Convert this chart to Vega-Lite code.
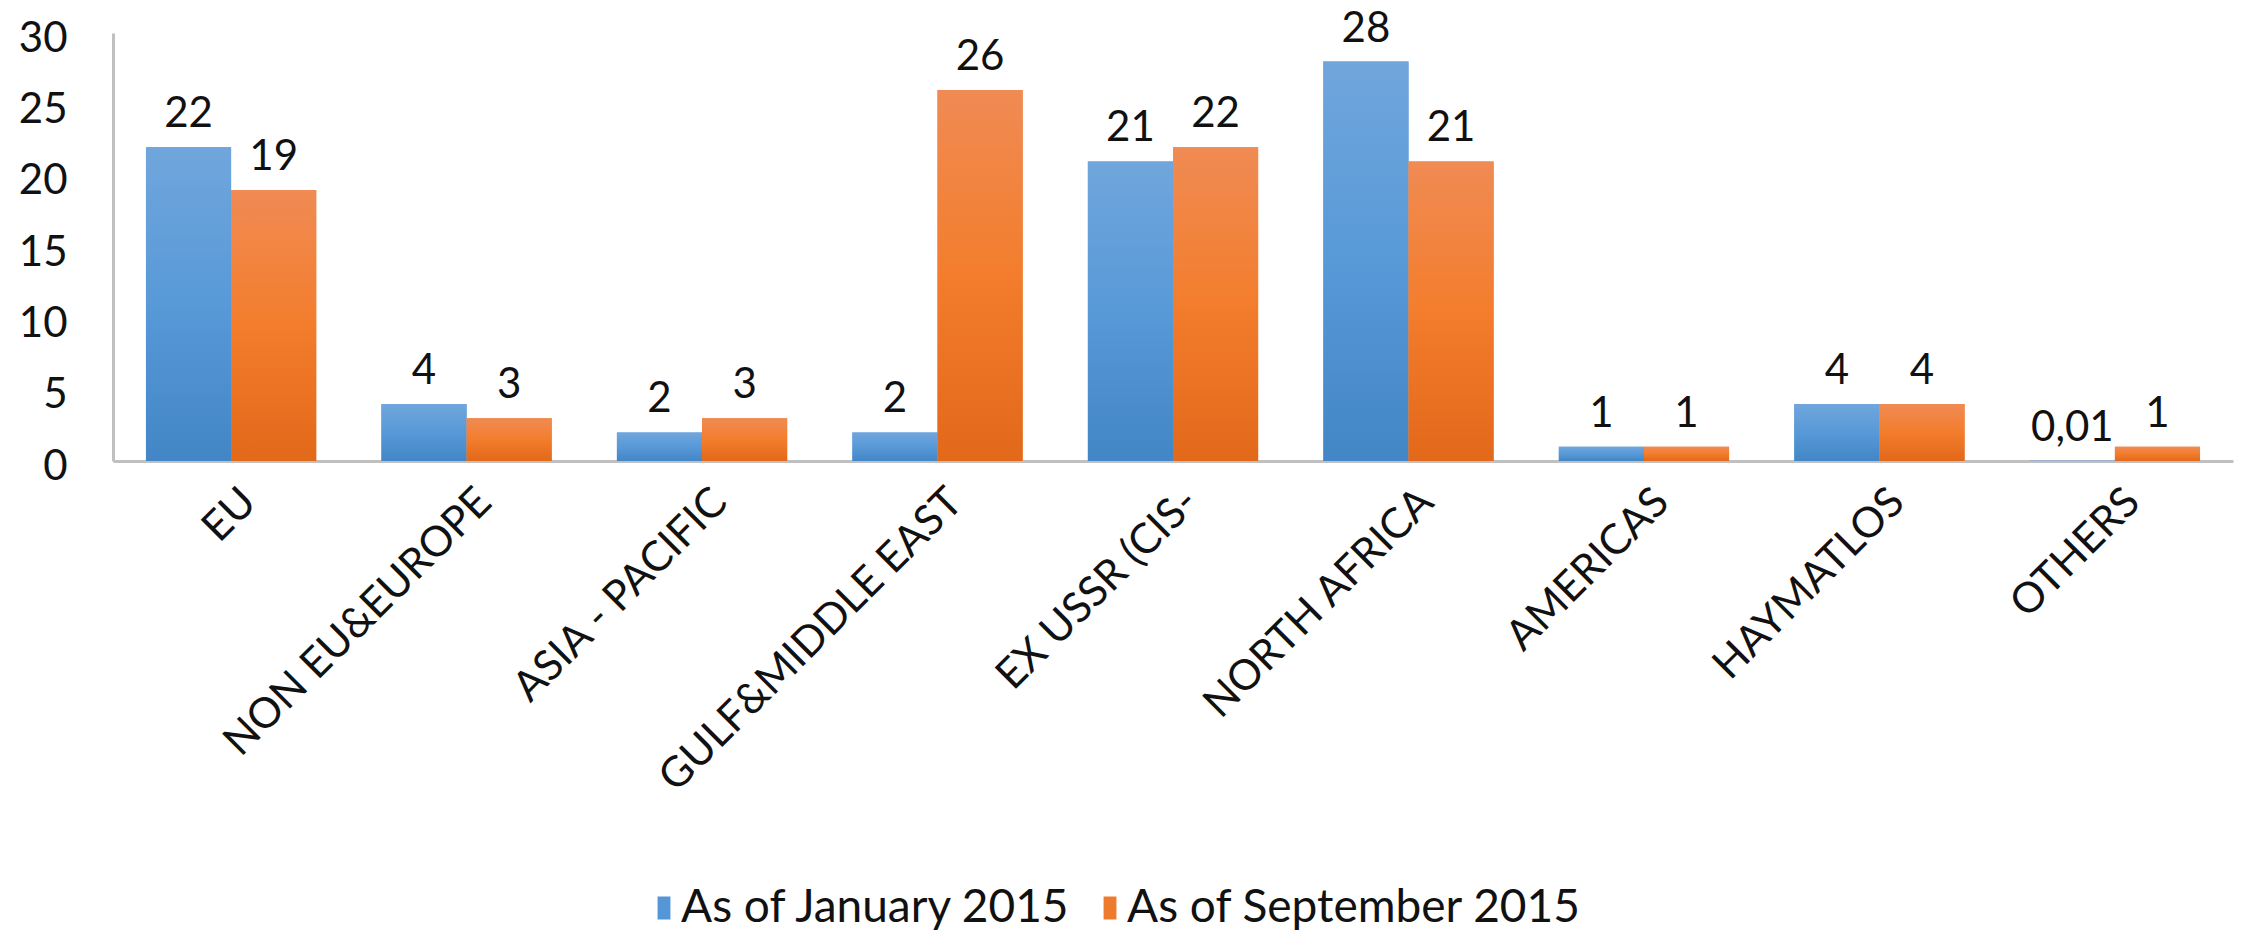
{
  "$schema": "https://vega.github.io/schema/vega-lite/v6.json",
  "width": 2120,
  "height": 428,
  "autosize": {"type": "none"},
  "padding": {"left": 113, "top": 33, "right": 21, "bottom": 479},
  "background": "white",
  "config": {
    "font": "Lato",
    "view": {"stroke": null},
    "axis": {"labelFont": "Lato", "labelColor": "#111111", "grid": false, "ticks": false, "title": null, "domainColor": "#c0c0c0", "domainWidth": 3},
    "legend": {"labelFont": "Lato"}
  },
  "data": {
    "values": [
      {"region": "EU", "series": "As of January 2015", "value": 22, "label": "22"},
      {"region": "EU", "series": "As of September 2015", "value": 19, "label": "19"},
      {"region": "NON EU&EUROPE", "series": "As of January 2015", "value": 4, "label": "4"},
      {"region": "NON EU&EUROPE", "series": "As of September 2015", "value": 3, "label": "3"},
      {"region": "ASIA - PACIFIC", "series": "As of January 2015", "value": 2, "label": "2"},
      {"region": "ASIA - PACIFIC", "series": "As of September 2015", "value": 3, "label": "3"},
      {"region": "GULF&MIDDLE EAST", "series": "As of January 2015", "value": 2, "label": "2"},
      {"region": "GULF&MIDDLE EAST", "series": "As of September 2015", "value": 26, "label": "26"},
      {"region": "EX USSR (CIS-", "series": "As of January 2015", "value": 21, "label": "21"},
      {"region": "EX USSR (CIS-", "series": "As of September 2015", "value": 22, "label": "22"},
      {"region": "NORTH AFRICA", "series": "As of January 2015", "value": 28, "label": "28"},
      {"region": "NORTH AFRICA", "series": "As of September 2015", "value": 21, "label": "21"},
      {"region": "AMERICAS", "series": "As of January 2015", "value": 1, "label": "1"},
      {"region": "AMERICAS", "series": "As of September 2015", "value": 1, "label": "1"},
      {"region": "HAYMATLOS", "series": "As of January 2015", "value": 4, "label": "4"},
      {"region": "HAYMATLOS", "series": "As of September 2015", "value": 4, "label": "4"},
      {"region": "OTHERS", "series": "As of January 2015", "value": 0.01, "label": "0,01"},
      {"region": "OTHERS", "series": "As of September 2015", "value": 1, "label": "1"}
    ]
  },
  "encoding": {
    "x": {
      "field": "region",
      "type": "nominal",
      "sort": null,
      "scale": {"paddingInner": 0.277, "paddingOuter": 0.14},
      "axis": {"labelAngle": -45, "labelAlign": "right", "labelBaseline": "middle", "labelFontSize": 42, "labelPadding": 34, "labelOffset": 18, "labelLimit": 0}
    },
    "xOffset": {
      "field": "series",
      "type": "nominal",
      "scale": {"domain": ["As of January 2015", "As of September 2015"], "paddingInner": 0, "paddingOuter": 0}
    },
    "y": {
      "field": "value",
      "type": "quantitative",
      "scale": {"domain": [0, 30], "nice": false},
      "axis": {"values": [0, 5, 10, 15, 20, 25, 30], "labelFontSize": 42, "labelPadding": 46, "labelOffset": 5}
    }
  },
  "layer": [
    {
      "mark": {"type": "bar"},
      "encoding": {
        "color": {
          "field": "series",
          "type": "nominal",
          "scale": {"domain": ["As of January 2015", "As of September 2015"], "range": ["#5597d6", "#ee7a2d"]},
          "legend": {
            "title": null,
            "orient": "none",
            "direction": "horizontal",
            "legendX": 528,
            "legendY": 852,
            "labelFontSize": 46,
            "labelColor": "#111111",
            "labelLimit": 0,
            "labelOffset": -6,
            "columnPadding": 15,
            "symbolType": "M-0.56,-1L0.56,-1L0.56,1L-0.56,1Z",
            "symbolSize": 529,
            "symbolStrokeWidth": 0,
            "padding": 0
          }
        }
      }
    },
    {
      "transform": [{"filter": "datum.series === 'As of January 2015'"}],
      "mark": {
        "type": "bar",
        "color": {"gradient": "linear", "x1": 0, "y1": 0, "x2": 0, "y2": 1, "stops": [{"offset": 0, "color": "#70a6dc"}, {"offset": 0.5, "color": "#5899d8"}, {"offset": 1, "color": "#4286c6"}]}
      }
    },
    {
      "transform": [{"filter": "datum.series === 'As of September 2015'"}],
      "mark": {
        "type": "bar",
        "color": {"gradient": "linear", "x1": 0, "y1": 0, "x2": 0, "y2": 1, "stops": [{"offset": 0, "color": "#f08b54"}, {"offset": 0.5, "color": "#f37d2c"}, {"offset": 1, "color": "#e2681a"}]}
      }
    },
    {
      "mark": {"type": "text", "fontSize": 42, "font": "Lato", "color": "#111111", "baseline": "alphabetic", "dy": -20},
      "encoding": {"text": {"field": "label"}}
    }
  ]
}
